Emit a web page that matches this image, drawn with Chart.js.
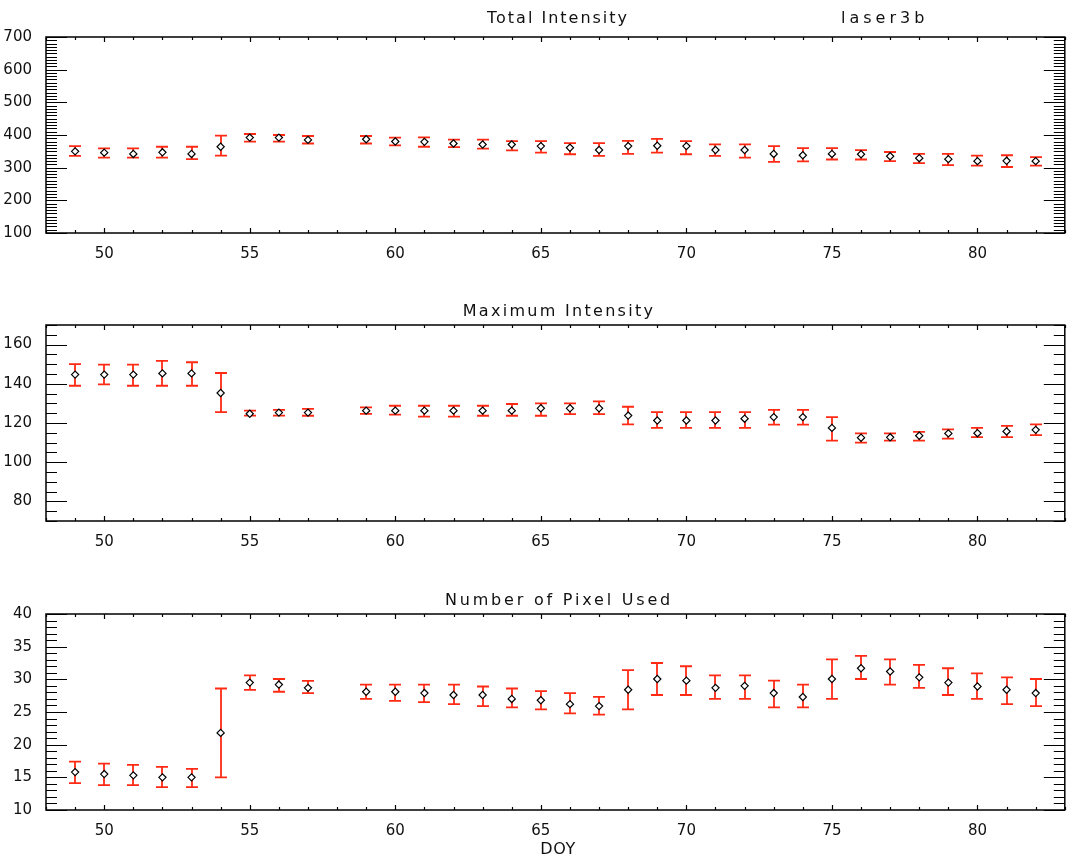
<!DOCTYPE html>
<html>
<head>
<meta charset="utf-8">
<script src="https://cdn.jsdelivr.net/npm/chart.js@4"></script>
<style>
  body { margin: 0; background: #fff; }
  .wrap { position: relative; width: 1070px; height: 867px; }
  canvas { position: absolute; left: 0; }
</style>
</head>
<body>
<div class="wrap">
  <canvas id="totalChart" width="1070" height="290" style="top:0"></canvas>
  <canvas id="maxChart" width="1070" height="290" style="top:290px"></canvas>
  <canvas id="pixelChart" width="1070" height="287" style="top:580px"></canvas>
</div>
<script>
// day of year (58 missing)
const days = [49, 50, 51, 52, 53, 54, 55, 56, 57, 59, 60, 61, 62, 63, 64, 65, 66,
  67, 68, 69, 70, 71, 72, 73, 74, 75, 76, 77, 78, 79, 80, 81, 82];
const xTicks = [50, 55, 60, 65, 70, 75, 80];

// Total Intensity
const totalMean = [350, 346, 342, 347, 342, 364, 392, 392, 385, 387, 380, 379, 374, 371, 371, 366, 361,
  354, 366, 367, 366, 354, 354, 342, 338, 342, 341, 335, 329, 326, 320, 321, 320];
const totalLow = [336, 331, 331, 331, 326, 337, 380, 380, 374, 374, 368, 364, 363, 358, 353, 346, 341,
  336, 342, 346, 341, 336, 331, 318, 319, 325, 325, 320, 314, 308, 306, 302, 306];
const totalHigh = [366, 359, 359, 364, 364, 398, 403, 400, 397, 397, 392, 393, 386, 386, 381, 381, 375,
  375, 382, 388, 381, 371, 371, 366, 360, 360, 354, 348, 342, 342, 337, 338, 332];
const totalTicks = [100, 200, 300, 400, 500, 600, 700];

// Maximum Intensity
const maxMean = [144.7, 144.7, 144.7, 145.3, 145.3, 135.3, 124.7, 125.3, 125.3, 126.3, 126.3, 126.3, 126.3,
  126.3, 126.3, 127.5, 127.5, 127.5, 123.8, 121.3, 121.3, 121.3, 122.2, 123, 123, 117.5, 112.5, 112.7,
  113.5, 114.7, 114.8, 115.7, 116.5];
const maxLow = [139, 139.7, 139, 139, 139, 125.5, 123.8, 123.8, 123.7, 124.7, 124.3, 123.3, 123.3, 123.7,
  123.7, 123.7, 124.5, 124.5, 119.3, 117.5, 117.5, 117.5, 117.5, 119.2, 119.2, 111, 110, 111, 111, 112,
  112.8, 112.8, 113.8];
const maxHigh = [150, 149.8, 149.8, 151.7, 151, 145.5, 126.3, 126.7, 127.2, 128, 128.8, 128.8, 128.8, 128.8,
  129.7, 130, 130, 131, 128.3, 125.5, 125.5, 125.5, 125.5, 126.7, 126.7, 123, 114.7, 114.7, 115.5, 116.7,
  117.5, 118.5, 119.3];
const maxTicks = [80, 100, 120, 140, 160];

// Number of Pixel Used
const pixMean = [15.8, 15.5, 15.3, 15.0, 15.0, 21.8, 29.5, 29.2, 28.7, 28.1, 28.1, 27.9, 27.6, 27.6, 27.0,
  26.8, 26.2, 25.9, 28.4, 30.05, 29.8, 28.7, 29.0, 27.9, 27.3, 30.05, 31.7, 31.2, 30.3, 29.5, 28.9, 28.4, 27.9];
const pixLow = [14.1, 13.8, 13.8, 13.5, 13.5, 15.0, 28.4, 28.1, 27.9, 27.0, 26.7, 26.5, 26.2, 25.9, 25.7,
  25.4, 24.8, 24.6, 25.4, 27.6, 27.6, 27.0, 27.0, 25.7, 25.7, 27.0, 30.05, 29.2, 28.7, 27.6, 27.0, 26.2, 25.9];
const pixHigh = [17.4, 17.1, 16.9, 16.6, 16.3, 28.6, 30.6, 30.05, 29.75, 29.2, 29.2, 29.2, 29.2, 28.9, 28.6,
  28.2, 27.9, 27.3, 31.4, 32.5, 32.0, 30.6, 30.6, 29.8, 29.2, 33.05, 33.6, 33.05, 32.2, 31.7, 30.9, 30.3, 30.05];
const pixTicks = [10, 15, 20, 25, 30, 35, 40];

const FONT = "'DejaVu Sans', sans-serif";
const RED = "#ff2a14";

// error bars drawn under the diamonds
const errorBars = {
  id: "errorBars",
  beforeDatasetsDraw(chart) {
    const { ctx, scales: { x, y } } = chart;
    const ds = chart.data.datasets[0];
    ctx.save();
    ctx.strokeStyle = RED;
    ctx.lineWidth = 1.8;
    ctx.beginPath();
    ds.data.forEach((p, i) => {
      const px = Math.round(x.getPixelForValue(p.x));
      const yl = y.getPixelForValue(ds.errLow[i]);
      const yh = y.getPixelForValue(ds.errHigh[i]);
      ctx.moveTo(px, yl); ctx.lineTo(px, yh);
      ctx.moveTo(px - 6, yl); ctx.lineTo(px + 6, yl);
      ctx.moveTo(px - 6, yh); ctx.lineTo(px + 6, yh);
    });
    ctx.stroke();
    ctx.restore();
  },
};

// IDL style box with inward ticks + titles
const idlFrame = {
  id: "idlFrame",
  afterDraw(chart, args, o) {
    const { ctx, chartArea: a, scales: { x, y } } = chart;
    ctx.save();
    ctx.strokeStyle = "#000";
    ctx.lineWidth = 1.5;
    ctx.strokeRect(a.left, a.top, a.width, a.height);
    ctx.lineWidth = 1.2;
    ctx.beginPath();
    for (let v = x.min; v <= x.max; v++) {
      const px = Math.round(x.getPixelForValue(v)) + 0.5;
      const len = v % 5 === 0 ? 5 : 3;
      ctx.moveTo(px, a.bottom); ctx.lineTo(px, a.bottom - len);
      ctx.moveTo(px, a.top); ctx.lineTo(px, a.top + len);
    }
    const steps = Math.round((y.max - y.min) / o.minor);
    for (let k = 0; k <= steps; k++) {
      const v = y.min + k * o.minor;
      const py = Math.round(y.getPixelForValue(v)) + 0.5;
      const len = o.ticks.some(t => Math.abs(t - v) < 1e-6) ? 21 : 11;
      ctx.moveTo(a.left, py); ctx.lineTo(a.left + len, py);
      ctx.moveTo(a.right, py); ctx.lineTo(a.right - len, py);
    }
    ctx.stroke();

    ctx.fillStyle = "#111";
    ctx.font = "16px " + FONT;
    ctx.textBaseline = "alphabetic";
    (o.texts || []).forEach(t => {
      ctx.letterSpacing = t.ls + "px";
      ctx.textAlign = t.align;
      ctx.fillText(t.text, t.x, t.y);
    });
    ctx.restore();
  },
};

function makePanel(id, mean, low, high, yMin, yMax, yTicks, minor, top, bottomH, texts) {
  new Chart(document.getElementById(id), {
    type: "scatter",
    data: {
      datasets: [{
        data: days.map((d, i) => ({ x: d, y: mean[i] })),
        errLow: low,
        errHigh: high,
        pointStyle: "rectRot",
        pointRadius: 3.6,
        borderWidth: 1.2,
        borderColor: "#000",
        backgroundColor: "#fff",
        showLine: false,
      }],
    },
    options: {
      responsive: false,
      animation: false,
      events: [],
      layout: { padding: { top: top, right: 2, left: 0, bottom: 0 } },
      plugins: {
        legend: { display: false },
        tooltip: { enabled: false },
        idlFrame: { ticks: yTicks, minor: minor, texts: texts },
      },
      scales: {
        x: {
          type: "linear",
          min: 48,
          max: 83,
          grid: { display: false },
          border: { display: false },
          afterBuildTicks: s => { s.ticks = xTicks.map(v => ({ value: v })); },
          afterFit: s => { s.height = bottomH; },
          ticks: { padding: 4, color: "#111", font: { family: FONT, size: 15 }, maxRotation: 0, autoSkip: false },
        },
        y: {
          type: "linear",
          min: yMin,
          max: yMax,
          grid: { display: false },
          border: { display: false },
          afterBuildTicks: s => { s.ticks = yTicks.map(v => ({ value: v })); },
          afterFit: s => { s.width = 46; },
          ticks: { padding: 6, color: "#111", font: { family: FONT, size: 15 }, autoSkip: false },
        },
      },
    },
    plugins: [errorBars, idlFrame],
  });
}

makePanel("totalChart", totalMean, totalLow, totalHigh, 100, 700, totalTicks, 10, 37, 57, [
  { text: "Total Intensity", x: 558, y: 23, align: "center", ls: 2 },
  { text: "laser3b", x: 841, y: 23, align: "left", ls: 4 },
]);
makePanel("maxChart", maxMean, maxLow, maxHigh, 70, 170, maxTicks, 5, 35, 59, [
  { text: "Maximum Intensity", x: 559, y: 26, align: "center", ls: 2.3 },
]);
makePanel("pixelChart", pixMean, pixLow, pixHigh, 10, 40, pixTicks, 1, 34, 57, [
  { text: "Number of Pixel Used", x: 559, y: 25, align: "center", ls: 2.8 },
  { text: "DOY", x: 558, y: 274, align: "center", ls: 0.5 },
]);
</script>
</body>
</html>
